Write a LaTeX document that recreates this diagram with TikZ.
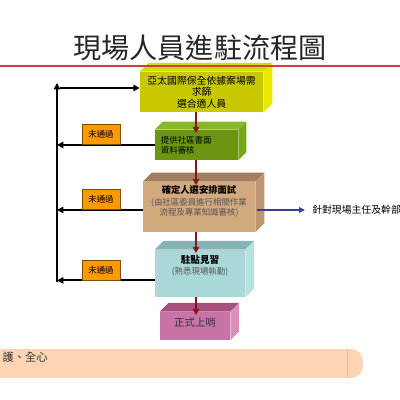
\documentclass[tikz,border=0pt]{standalone}
\usepackage{fontspec}
\setmainfont{Noto Sans CJK TC}
\usepackage{tikz}
\usetikzlibrary{arrows.meta,calc,positioning}
\definecolor{yfront}{RGB}{200,200,0}
\definecolor{ytop}{RGB}{216,216,14}
\definecolor{yside}{RGB}{232,232,0}
\definecolor{gfront}{RGB}{108,150,18}
\definecolor{gtop}{RGB}{140,182,42}
\definecolor{gside}{RGB}{122,166,26}
\definecolor{tfront}{RGB}{210,168,125}
\definecolor{ttop}{RGB}{162,126,96}
\definecolor{tside}{RGB}{190,150,112}
\definecolor{cfront}{RGB}{170,215,215}
\definecolor{ctop}{RGB}{132,180,180}
\definecolor{cside}{RGB}{182,226,226}
\definecolor{pfront}{RGB}{200,115,165}
\definecolor{ptop}{RGB}{165,80,125}
\definecolor{pside}{RGB}{222,142,188}
\definecolor{flowred}{RGB}{140,20,20}
\definecolor{leadblue}{RGB}{60,60,150}
\definecolor{failorange}{RGB}{255,153,0}
\definecolor{failbrown}{RGB}{120,80,0}
\definecolor{subgray}{RGB}{85,85,85}
\definecolor{peach}{RGB}{253,213,180}
\definecolor{peachline}{RGB}{238,190,155}
\definecolor{ruleRed}{RGB}{210,60,60}
% top and right faces of a step box
\newcommand{\slab}[4]{%
  \fill[#3] (#1.north west) -- ++(#2,#2) -- ([shift={(#2,#2)}]#1.north east) -- (#1.north east) -- cycle;
  \fill[#4] (#1.north east) -- ++(#2,#2) -- ([shift={(#2,#2)}]#1.south east) -- (#1.south east) -- cycle;}
\tikzset{
  face/.style={inner sep=0pt, align=center},
  flow/.style={-{Triangle[length=4.5pt,width=4.5pt]}, line width=1.2pt, draw=flowred, shorten >=-2.5pt},
  retline/.style={-{Triangle[length=4.5pt,width=4.5pt]}, line width=1.5pt},
  failbox/.style={fill=failorange, draw=failbrown, line width=0.4pt, minimum width=0.95cm,
    minimum height=0.5cm, inner sep=0pt, anchor=south, font=\fontsize{6}{7}\selectfont}
}
\begin{document}
\begin{tikzpicture}
  \useasboundingbox (0,0) rectangle (10,10);
  \clip (0,0) rectangle (10,10);
  \node[font=\fontsize{20}{24}\selectfont, text=black!85] (title) at (5,8.8) {現場人員進駐流程圖};

  % left return path
  \coordinate (spinetop) at (1.425,7.925);
  \coordinate (spinebot) at (1.425,2.96);
  \coordinate (entry) at (1.5,7.8);
  \coordinate (axis) at (4.9,0);
  \draw[retline] (spinebot) -- (spinetop);

  % steps
  \node[face, fill=yfront, minimum width=3.08cm, minimum height=1cm,
    font=\fontsize{7}{8.2}\selectfont] (b1) at (5.04,7.7) {亞太國際保全依據案場需\\求篩\\選合適人員};
  \slab{b1}{0.22}{ytop}{yside}
  \node[face, fill=gfront, inner xsep=0.15cm, text width=1.78cm, align=left, minimum height=0.75cm,
    font=\fontsize{6}{7.1}\selectfont] (b2) at (4.9125,6.375) {提供社區書面\\資料審核};
  \slab{b2}{0.2}{gtop}{gside}
  \node[face, fill=tfront, minimum width=2.8cm, minimum height=1.25cm] (b3) at (4.975,4.825) {};
  \slab{b3}{0.23}{ttop}{tside}
  \node[face, font=\fontsize{6}{6.6}\selectfont] (b3txt) at ([yshift=0.15cm]b3.center)
    {\textbf{\fontsize{6.6}{6.6}\selectfont 確定人選安排面試}\\[2.4pt]
     \textcolor{subgray}{(由社區委員進行相關作業}\\\textcolor{subgray}{流程及專業知識審核)}};
  \node[face, fill=cfront, minimum width=2.25cm, minimum height=1.18cm] (b4) at (5.0,3.16) {};
  \slab{b4}{0.22}{ctop}{cside}
  \node[face, font=\fontsize{6}{7.5}\selectfont] (b4txt) at ([yshift=0.2cm]b4.center)
    {\textbf{\fontsize{6.8}{7.5}\selectfont 駐點見習}\\\textcolor{subgray}{(熟悉現場執勤)}};
  \node[face, fill=pfront, minimum width=1.75cm, minimum height=0.7cm] (b5) at (4.875,1.85) {};
  \slab{b5}{0.22}{ptop}{pside}
  \node[face, font=\fontsize{7.4}{8}\selectfont, text=black!80] (b5txt) at ([yshift=0.075cm]b5.center) {正式上哨};

  % flow down
  \draw[flow] (b1.south -| axis) -- (b2.north -| axis);
  \draw[flow] (b2.south -| axis) -- (b3.north -| axis);
  \draw[flow] (b3.south -| axis) -- (b4.north -| axis);
  \draw[flow] (b4.south -| axis) -- (b5.north -| axis);

  % entry and returns
  \draw[retline] (entry) -- ([yshift=0.1cm]b1.west);
  \draw[retline] (b2.west) -- (b2.west -| spinetop);
  \draw[retline] ([yshift=-0.075cm]b3.west) -- ([yshift=-0.075cm]b3.west -| spinetop);
  \draw[retline] ([yshift=-0.17cm]b4.west) -- ([yshift=-0.17cm]b4.west -| spinetop);
  \node[failbox] (fail1) at (2.525,6.375) {未通過};
  \node[failbox] (fail2) at (2.525,4.75) {未通過};
  \node[failbox] (fail3) at (2.525,2.99) {未通過};

  % interview note
  \node[anchor=west, inner xsep=0.18cm, inner ysep=0pt, font=\fontsize{7}{8}\selectfont] (lead) at (7.62,4.75) {針對現場主任及幹部};
  \draw[-{Triangle[length=4pt,width=4pt]}, line width=0.8pt, leadblue] ([shift={(0.05,-0.075)}]b3.east) -- (lead.west);

  % rule under title
  \draw[ruleRed, line width=0.8pt] (0,8.35) -- (10,8.35);

  % bottom band
  \fill[peach, rounded corners=0.3cm] (-0.5,0.55) rectangle (9.075,1.275);
  \draw[peachline, line width=0.4pt] (8.675,0.55) -- (8.675,1.275);
  \node[anchor=west, inner sep=0pt, font=\fontsize{8}{9}\selectfont, text=black!80] (motto) at (0.06,1.075) {護、全心};
\end{tikzpicture}
\end{document}
